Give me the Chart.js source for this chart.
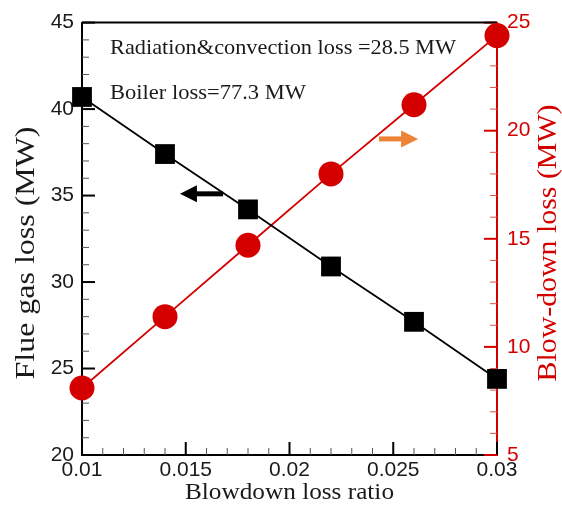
<!DOCTYPE html>
<html>
<head>
<meta charset="utf-8">
<script src="https://cdn.jsdelivr.net/npm/chart.js@4.4.1/dist/chart.umd.min.js"></script>
<style>html,body{margin:0;padding:0;background:#fff}</style>
</head>
<body>
<canvas id="c" width="562" height="512"></canvas>
<script>
const ratio = [0.01, 0.014, 0.018, 0.022, 0.026, 0.03]
const flueGas = [40.7, 37.4, 34.2, 30.9, 27.7, 24.4]
const blowDown = [8.1, 11.4, 14.7, 18.0, 21.2, 24.4]
const xTickLabels = ['0.01', '0.015', '0.02', '0.025', '0.03']
const notes = ['Radiation&convection loss =28.5 MW', 'Boiler loss=77.3 MW']

const RED = '#d40000', ORANGE = '#ee8236', INK = '#1a1a1a'
const SANS = '"Liberation Sans", Arial, sans-serif'
const SERIF = '"Liberation Serif", "Times New Roman", serif'

// inward tick marks, major + minor
function inTicks(ctx, s, minor, major, color, side) {
  const n = Math.round((s.max - s.min) / minor)
  const a = s.chart.chartArea
  for (let i = 0; i <= n; i++) {
    const v = s.min + i * minor
    const isMaj = Math.abs(v / major - Math.round(v / major)) < 1e-6
    const len = isMaj ? 13 : 7
    const p = s.getPixelForValue(v)
    ctx.beginPath()
    ctx.strokeStyle = isMaj ? color : (color === RED ? '#e05050' : '#555')
    ctx.lineWidth = isMaj ? 2 : 1
    if (side === 'bottom') { ctx.moveTo(p, a.bottom); ctx.lineTo(p, a.bottom - len) }
    if (side === 'left') { ctx.moveTo(a.left, p); ctx.lineTo(a.left + len, p) }
    if (side === 'right') { ctx.moveTo(a.right, p); ctx.lineTo(a.right - len, p) }
    ctx.stroke()
  }
}

function arrow(ctx, x1, y1, x2, color) {
  const dir = Math.sign(x2 - x1), head = 17, half = 8.5
  ctx.fillStyle = color; ctx.strokeStyle = color; ctx.lineWidth = 5
  ctx.beginPath(); ctx.moveTo(x1, y1); ctx.lineTo(x2 - dir * (head - 2), y1); ctx.stroke()
  ctx.beginPath()
  ctx.moveTo(x2, y1); ctx.lineTo(x2 - dir * head, y1 - half); ctx.lineTo(x2 - dir * head, y1 + half)
  ctx.closePath(); ctx.fill()
}

// text stretched to the length it has in the reference
function fitText(ctx, str, x, y, len, rot) {
  ctx.save()
  ctx.translate(x, y)
  if (rot) ctx.rotate(rot)
  const w = ctx.measureText(str).width
  ctx.scale(len / w, 1)
  ctx.fillText(str, 0, 0)
  ctx.restore()
}

const decor = {
  id: 'decor',
  beforeDatasetsDraw(chart) {
    const { ctx, chartArea: a, scales } = chart
    ctx.save()
    inTicks(ctx, scales.x, 0.001, 0.005, '#000', 'bottom')
    inTicks(ctx, scales.y, 1, 5, '#000', 'left')
    inTicks(ctx, scales.y2, 1, 5, RED, 'right')
    ctx.beginPath(); ctx.strokeStyle = '#000'; ctx.lineWidth = 2
    ctx.moveTo(a.left, a.top); ctx.lineTo(a.right, a.top); ctx.stroke()
    ctx.restore()
  },
  afterDraw(chart) {
    const { ctx, chartArea: a, scales: { x, y, y2 } } = chart
    ctx.save()
    ctx.textAlign = 'center'; ctx.textBaseline = 'middle'
    ctx.fillStyle = INK
    ctx.font = '24px ' + SERIF
    fitText(ctx, 'Blowdown loss ratio', (a.left + a.right) / 2, 493, 209)
    ctx.font = '27px ' + SERIF
    fitText(ctx, 'Flue gas loss (MW)', 27, 253, 253, -Math.PI / 2)
    ctx.fillStyle = RED
    fitText(ctx, 'Blow-down loss (MW)', 549, 243, 277, -Math.PI / 2)

    ctx.fillStyle = INK
    ctx.textAlign = 'left'; ctx.textBaseline = 'alphabetic'
    ctx.font = '21px ' + SERIF
    fitText(ctx, notes[0], x.getPixelForValue(0.01135), y.getPixelForValue(43.2), 346)
    fitText(ctx, notes[1], x.getPixelForValue(0.01135), y.getPixelForValue(40.6), 196)

    arrow(ctx, x.getPixelForValue(0.0168), y.getPixelForValue(35.1), x.getPixelForValue(0.01472), '#000')
    arrow(ctx, x.getPixelForValue(0.02431), y2.getPixelForValue(19.62), x.getPixelForValue(0.0262), ORANGE)
    ctx.restore()
  }
}

const tickFont = { family: SANS, size: 21 }

new Chart(document.getElementById('c'), {
  type: 'line',
  data: {
    datasets: [
      { label: 'Flue gas loss', yAxisID: 'y', data: ratio.map((v, i) => ({ x: v, y: flueGas[i] })),
        borderColor: '#000', backgroundColor: '#000', borderWidth: 1.8,
        pointStyle: 'rect', pointRadius: 14, pointBorderWidth: 0, clip: false },
      { label: 'Blow-down loss', yAxisID: 'y2', data: ratio.map((v, i) => ({ x: v, y: blowDown[i] })),
        borderColor: RED, backgroundColor: RED, borderWidth: 1.8,
        pointStyle: 'circle', pointRadius: 12.5, pointBorderWidth: 0, clip: false }
    ]
  },
  options: {
    responsive: false, animation: false,
    layout: { padding: { top: 21, left: 0, right: 0, bottom: 0 } },
    plugins: { legend: { display: false }, tooltip: { enabled: false } },
    scales: {
      x: { type: 'linear', min: 0.01, max: 0.03,
        ticks: { stepSize: 0.005, font: tickFont, color: INK, padding: 3, maxRotation: 0,
          callback: v => xTickLabels[Math.round((v - 0.01) / 0.005)] },
        grid: { display: true, drawOnChartArea: false, drawTicks: false },
        border: { color: '#000', width: 2 },
        afterFit: s => { s.height = 57 } },
      y: { position: 'left', min: 20, max: 45,
        ticks: { stepSize: 5, font: tickFont, color: INK, padding: 8 },
        grid: { display: true, drawOnChartArea: false, drawTicks: false },
        border: { color: '#000', width: 2 },
        afterFit: s => { s.width = 82 } },
      y2: { position: 'right', min: 5, max: 25,
        ticks: { stepSize: 5, font: tickFont, color: RED, padding: 10 },
        grid: { display: true, drawOnChartArea: false, drawTicks: false },
        border: { color: RED, width: 2 },
        afterFit: s => { s.width = 65 } }
    }
  },
  plugins: [decor]
})
</script>
</body>
</html>
